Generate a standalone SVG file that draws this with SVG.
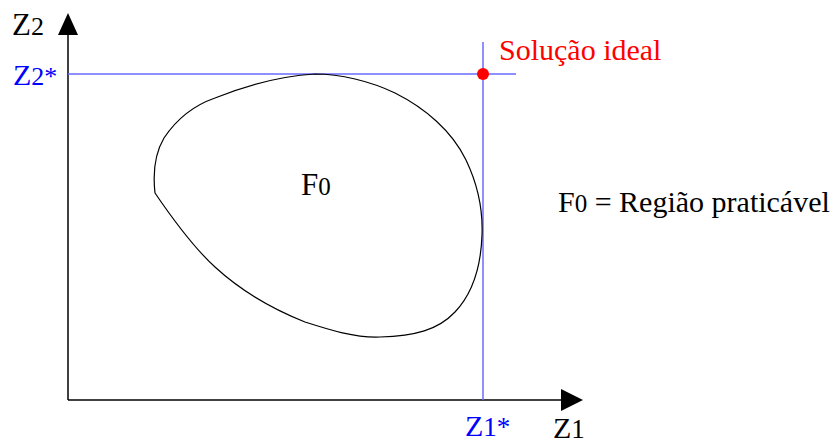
<svg xmlns="http://www.w3.org/2000/svg" width="835" height="445" viewBox="0 0 835 445">
<style>
text{font-family:'Liberation Serif','Times New Roman',serif;}
.blk{fill:#000;}
.blue{fill:#0000ff;}
.red{fill:#ff0000;}
.axis{stroke:#000;stroke-width:1.5;fill:none;}
.guide{stroke:#6a6aff;stroke-width:1.5;fill:none;}
</style>
<rect width="835" height="445" fill="#fff"/>
<g id="connectors">
<line class="axis" x1="68" y1="400" x2="68" y2="34"/>
<polygon points="68,13 58,35 78,35" fill="#000"/>
<line class="axis" x1="68" y1="400" x2="562" y2="400"/>
<polygon points="583,400 561,389 561,411" fill="#000"/>
<line class="guide" x1="68" y1="74" x2="516" y2="74"/>
<line class="guide" x1="483" y1="42" x2="483" y2="400"/>
</g>
<g id="region">
<path d="M315,74 C340,74 370,81 395,93 C425,108 452,131 466,160 C478,185 483,210 482,235 C481,265 473,293 455,312 C438,330 415,336 380,337 C355,338 330,330 305,322 C270,308 240,290 215,267 C193,247 172,218 155,193 C153,175 154,155 164,138 C176,120 192,106 215,98 C245,86 280,76 315,74 Z" fill="none" stroke="#000" stroke-width="1.2"/>
<text class="blk" x="301" y="195" font-size="31">F<tspan font-size="25">0</tspan></text>
</g>
<g id="ideal">
<circle cx="483" cy="74" r="6" fill="#ff0000"/>
<text class="red" x="499" y="60" font-size="30">Solução ideal</text>
</g>
<g id="labels">
<text class="blk" x="12" y="35" font-size="31">Z<tspan font-size="26">2</tspan></text>
<text class="blue" x="13" y="85" font-size="30">Z<tspan font-size="26">2*</tspan></text>
<text class="blue" x="465" y="436" font-size="30">Z<tspan font-size="27">1*</tspan></text>
<text class="blk" x="553" y="438" font-size="30">Z<tspan font-size="27">1</tspan></text>
<text class="blk" x="558" y="212" font-size="30">F<tspan font-size="25">0</tspan> = Região praticável</text>
</g>
</svg>
